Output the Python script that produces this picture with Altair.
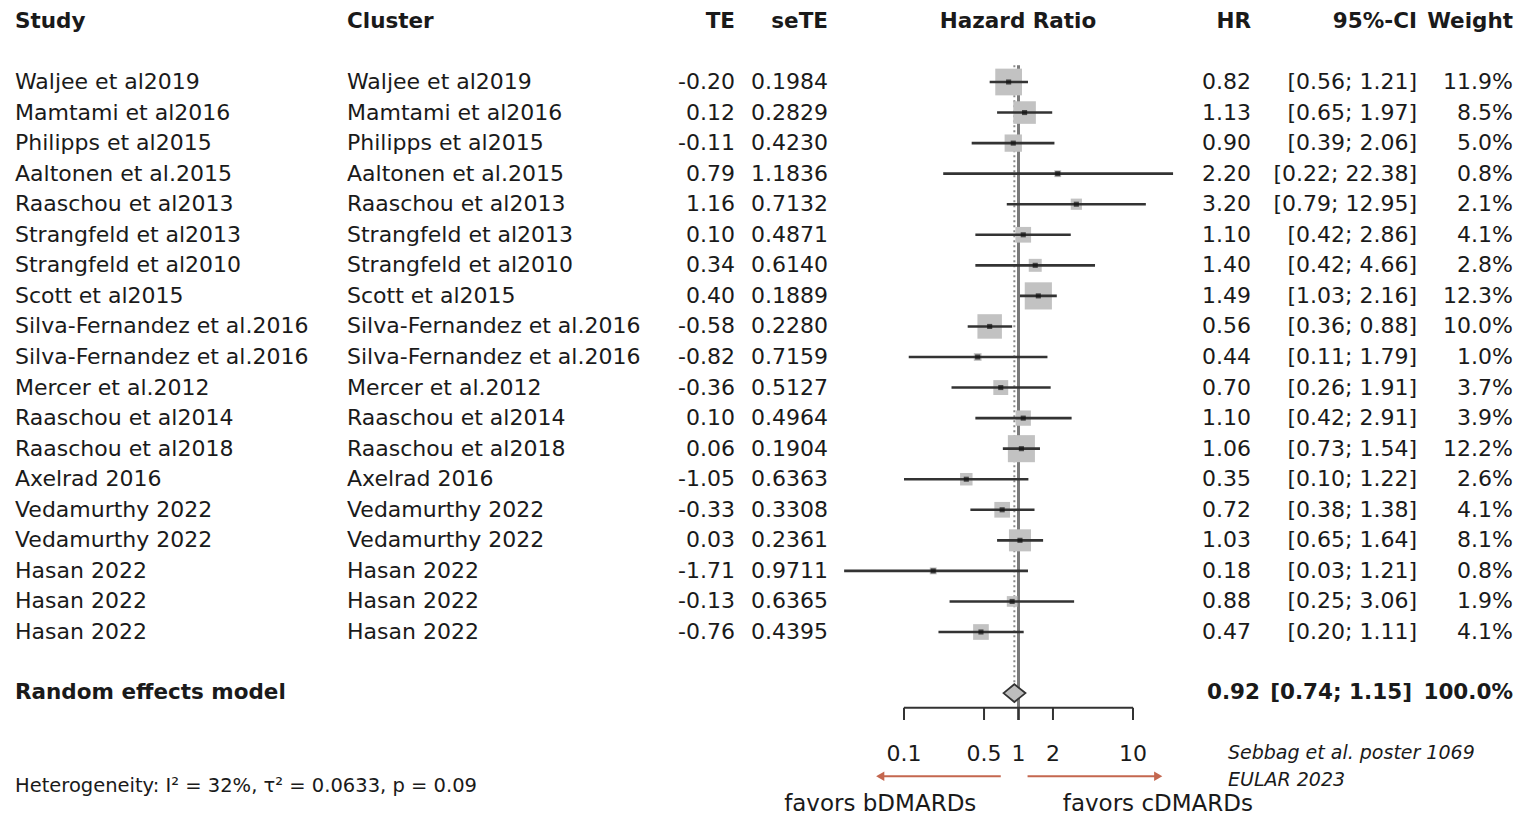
import altair as alt
import pandas as pd

# ---------------- data ----------------
studies = ["Waljee et al2019", "Mamtami et al2016", "Philipps et al2015", "Aaltonen et al.2015",
           "Raaschou et al2013", "Strangfeld et al2013", "Strangfeld et al2010", "Scott et al2015",
           "Silva-Fernandez et al.2016", "Silva-Fernandez et al.2016", "Mercer et al.2012",
           "Raaschou et al2014", "Raaschou et al2018", "Axelrad 2016", "Vedamurthy 2022",
           "Vedamurthy 2022", "Hasan 2022", "Hasan 2022", "Hasan 2022"]
clusters = ["Waljee et al2019", "Mamtami et al2016", "Philipps et al2015", "Aaltonen et al.2015",
            "Raaschou et al2013", "Strangfeld et al2013", "Strangfeld et al2010", "Scott et al2015",
            "Silva-Fernandez et al.2016", "Silva-Fernandez et al.2016", "Mercer et al.2012",
            "Raaschou et al2014", "Raaschou et al2018", "Axelrad 2016", "Vedamurthy 2022",
            "Vedamurthy 2022", "Hasan 2022", "Hasan 2022", "Hasan 2022"]
te = [-0.20, 0.12, -0.11, 0.79, 1.16, 0.10, 0.34, 0.40, -0.58, -0.82, -0.36, 0.10, 0.06,
      -1.05, -0.33, 0.03, -1.71, -0.13, -0.76]
sete = [0.1984, 0.2829, 0.4230, 1.1836, 0.7132, 0.4871, 0.6140, 0.1889, 0.2280, 0.7159,
        0.5127, 0.4964, 0.1904, 0.6363, 0.3308, 0.2361, 0.9711, 0.6365, 0.4395]
hr = [0.82, 1.13, 0.90, 2.20, 3.20, 1.10, 1.40, 1.49, 0.56, 0.44, 0.70, 1.10, 1.06, 0.35,
      0.72, 1.03, 0.18, 0.88, 0.47]
lo = [0.56, 0.65, 0.39, 0.22, 0.79, 0.42, 0.42, 1.03, 0.36, 0.11, 0.26, 0.42, 0.73, 0.10,
      0.38, 0.65, 0.03, 0.25, 0.20]
hi = [1.21, 1.97, 2.06, 22.38, 12.95, 2.86, 4.66, 2.16, 0.88, 1.79, 1.91, 2.91, 1.54, 1.22,
      1.38, 1.64, 1.21, 3.06, 1.11]
weight = [11.9, 8.5, 5.0, 0.8, 2.1, 4.1, 2.8, 12.3, 10.0, 1.0, 3.7, 3.9, 12.2, 2.6, 4.1,
          8.1, 0.8, 1.9, 4.1]

re_label = "Random effects model"
re_hr, re_lo, re_hi, re_weight = 0.92, 0.74, 1.15, 100.0

axis_ticks = [0.1, 0.5, 1, 2, 10]
axis_labels = ["0.1", "0.5", "1", "2", "10"]

headers = ["Study", "Cluster", "TE", "seTE", "Hazard Ratio", "HR", "95%-CI", "Weight"]
heterogeneity = "Heterogeneity: I\u00b2 = 32%, \u03c4\u00b2 = 0.0633, p = 0.09"
favors_left = "favors bDMARDs"
favors_right = "favors cDMARDs"
source_lines = ["Sebbag et al. poster 1069", "EULAR 2023"]

# ---------------- layout ----------------
FONT = "DejaVu Sans"
FS = 22
TXT = "#1a1a1a"
W, H = 1519, 815
n = len(studies)
RE_ROW = n + 1          # random effects row
HEAD_ROW = -2
AXIS_ROW = 20.48
TICK_END = 20.88
LABEL_ROW = 21.98
ARROW_ROW = 22.72
FAV_ROW = 23.62

xs = alt.Scale(type="log", domain=[0.1, 10], range=[904, 1133], nice=False)
ys = alt.Scale(domain=[0, n - 1], range=[82, 632], nice=False, zero=False)

df = pd.DataFrame({
    "row": list(range(n)),
    "study": studies,
    "cluster": clusters,
    "te": [f"{v:.2f}" for v in te],
    "sete": [f"{v:.4f}" for v in sete],
    "hr": hr,
    "lo": lo,
    "hi": hi,
    "w": weight,
    "hr_s": [f"{v:.2f}" for v in hr],
    "ci_s": [f"[{a:.2f}; {b:.2f}]" for a, b in zip(lo, hi)],
    "w_s": [f"{v:.1f}%" for v in weight],
})
df["size"] = df["w"] * 60.0


def X(field):
    return alt.X(field, type="quantitative", scale=xs, axis=None)


def Y(field):
    return alt.Y(field, type="quantitative", scale=ys, axis=None)


def text_col(data, field, x, align, bold=False, size=FS, italic=False):
    kw = dict(align=align, baseline="middle", font=FONT, fontSize=size,
              fontWeight="bold" if bold else "normal", color=TXT)
    if italic:
        kw["fontStyle"] = "italic"
    return alt.Chart(data).mark_text(**kw).encode(
        x=alt.value(x), y=Y("row"), text=alt.Text(field, type="nominal"))


layers = []

# header
hdr_x = [15, 347, 735, 828, 1018, 1251, 1417, 1513]
hdr_al = ["left", "left", "right", "right", "center", "right", "right", "right"]
for h, x, a in zip(headers, hdr_x, hdr_al):
    hd = pd.DataFrame({"row": [HEAD_ROW + 0.03], "t": [h]})
    layers.append(text_col(hd, "t", x, a, bold=True, size=21.5))

# study rows
layers += [
    text_col(df, "study", 15, "left"),
    text_col(df, "cluster", 347, "left"),
    text_col(df, "te", 735, "right"),
    text_col(df, "sete", 828, "right"),
    text_col(df, "hr_s", 1251, "right"),
    text_col(df, "ci_s", 1417, "right"),
    text_col(df, "w_s", 1513, "right"),
]

# random effects row text
re_df = pd.DataFrame({
    "row": [RE_ROW], "lab": [re_label], "hr_s": [f"{re_hr:.2f}"],
    "ci_s": [f"[{re_lo:.2f}; {re_hi:.2f}]"], "w_s": [f"{re_weight:.1f}%"],
})
layers += [
    text_col(re_df, "lab", 15, "left", bold=True, size=21.5),
    text_col(re_df, "hr_s", 1260, "right", bold=True, size=21.5),
    text_col(re_df, "ci_s", 1412, "right", bold=True, size=21.5),
    text_col(re_df, "w_s", 1513, "right", bold=True, size=21.5),
]

# reference line at 1 and dotted pooled-estimate line
ref = pd.DataFrame({"x": [1.0], "r1": [-0.55], "r2": [TICK_END]})
layers.append(alt.Chart(ref).mark_rule(color="#7a7a7a", strokeWidth=3).encode(
    x=X("x"), y=Y("r1"), y2="r2"))
pooled = pd.DataFrame({"x": [re_hr], "r1": [-0.55], "r2": [RE_ROW - 0.35]})
layers.append(alt.Chart(pooled).mark_rule(color="#8a8a8a", strokeWidth=2, strokeDash=[2, 3]).encode(
    x=X("x"), y=Y("r1"), y2="r2"))

# weight squares
layers.append(alt.Chart(df).mark_square(color="#c2c2c2", opacity=1, filled=True).encode(
    x=X("hr"), y=Y("row"), size=alt.Size("size:Q", scale=None, legend=None)))

# CI lines
layers.append(alt.Chart(df).mark_rule(color="#333333", strokeWidth=2.6).encode(
    x=X("lo"), x2="hi", y=Y("row")))

# point estimate dots
layers.append(alt.Chart(df).mark_square(color="#111111", filled=True, size=26).encode(
    x=X("hr"), y=Y("row")))

# diamond for random effects model
hh = 0.29
dia = pd.DataFrame({"x": [re_lo, re_hr, re_hi],
                    "y1": [RE_ROW, RE_ROW - hh, RE_ROW],
                    "y2": [RE_ROW, RE_ROW + hh, RE_ROW]})
layers.append(alt.Chart(dia).mark_area(orient="vertical", color="#bdbdbd", stroke="#333333",
                                       strokeWidth=1.8, interpolate="linear").encode(
    x=X("x"), y=Y("y1"), y2="y2"))

# x axis: baseline, ticks, labels
ax = pd.DataFrame({"a": [axis_ticks[0]], "b": [axis_ticks[-1]], "row": [AXIS_ROW]})
layers.append(alt.Chart(ax).mark_rule(color="#333333", strokeWidth=2).encode(
    x=X("a"), x2="b", y=Y("row")))
tk = pd.DataFrame({"t": axis_ticks, "lab": axis_labels, "r1": AXIS_ROW, "r2": TICK_END,
                   "lr": LABEL_ROW})
layers.append(alt.Chart(tk).mark_rule(color="#333333", strokeWidth=2).encode(
    x=X("t"), y=Y("r1"), y2="r2"))
layers.append(alt.Chart(tk).mark_text(font=FONT, fontSize=FS, color=TXT, baseline="middle",
                                      align="center").encode(
    x=X("t"), y=Y("lr"), text="lab:N"))

# arrows
ARROW = "#c4674f"
arr = pd.DataFrame({"a": [0.70, 1.20], "b": [0.066, 16.0], "row": ARROW_ROW})
layers.append(alt.Chart(arr).mark_rule(color=ARROW, strokeWidth=2).encode(
    x=X("a"), x2="b", y=Y("row")))
heads = pd.DataFrame({"x": [0.062, 16.6], "row": ARROW_ROW,
                      "shape": ["triangle-left", "triangle-right"]})
layers.append(alt.Chart(heads).mark_point(filled=True, color=ARROW, opacity=1, size=90).encode(
    x=X("x"), y=Y("row"), shape=alt.Shape("shape:N", scale=None, legend=None)))

fav = pd.DataFrame({"x": [0.062, 16.5], "row": FAV_ROW, "t": [favors_left, favors_right]})
layers.append(alt.Chart(fav).mark_text(font=FONT, fontSize=23, color=TXT, baseline="middle",
                                       align="center").encode(
    x=X("x"), y=Y("row"), text="t:N"))

# heterogeneity + source note
het = pd.DataFrame({"row": [23.05], "t": [heterogeneity]})
layers.append(text_col(het, "t", 15, "left", size=19.5))
src = pd.DataFrame({"row": [21.95, 22.83], "t": source_lines})
layers.append(text_col(src, "t", 1228, "left", size=19, italic=True))

chart = alt.layer(*layers).properties(
    width=W, height=H, autosize=alt.AutoSizeParams(type="none"), padding=0,
    background="white"
).configure_view(stroke=None)

chart.save("out.html", embed_options={"renderer": "svg", "actions": False})
